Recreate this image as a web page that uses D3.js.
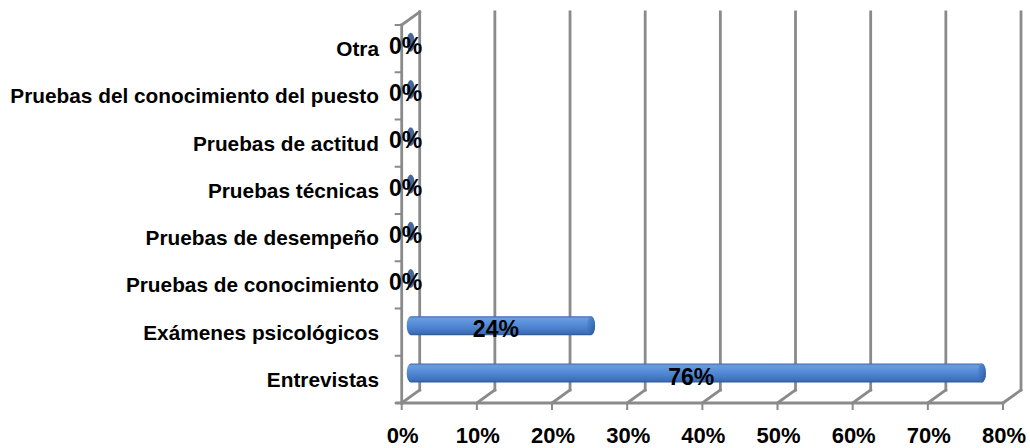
<!DOCTYPE html>
<html>
<head>
<meta charset="utf-8">
<script src="https://cdn.jsdelivr.net/npm/d3@7"></script>
<style>
  html, body { margin: 0; padding: 0; background: #ffffff; }
  svg { display: block; }
  text { font-family: "Liberation Sans", Arial, sans-serif; font-weight: bold; fill: #000; }
</style>
</head>
<body>
<svg id="chart" width="1030" height="448"></svg>
<script>
// Selection methods, top to bottom
const categories = [
  "Otra",
  "Pruebas del conocimiento del puesto",
  "Pruebas de actitud",
  "Pruebas técnicas",
  "Pruebas de desempeño",
  "Pruebas de conocimiento",
  "Exámenes psicológicos",
  "Entrevistas"
];
const values = [0, 0, 0, 0, 0, 0, 0.24, 0.76];
const tickValues = [0, 0.1, 0.2, 0.3, 0.4, 0.5, 0.6, 0.7, 0.8];

const svg = d3.select("#chart");

// Front plane of the 3D box, and the depth offset to its back wall
const plot = { left: 401.7, right: 1003, top: 25, bottom: 403 };
const depth = { dx: 18, dy: -13 };

const x = d3.scaleLinear().domain([0, 0.8]).range([plot.left, plot.right]);
const y = d3.scaleBand().domain(categories).range([plot.top, plot.bottom]).padding(0);

const pct = d3.format(".0%");
const gridColor = "#8a8a8a";

// Gradients for the cylinder bars
const defs = svg.append("defs");
const body = defs.append("linearGradient").attr("id", "barBody")
  .attr("x1", 0).attr("y1", 0).attr("x2", 0).attr("y2", 1);
[[0, "#3a68aa"], [0.12, "#6a9de0"], [0.3, "#5d93dc"], [0.6, "#4c82cf"], [0.88, "#3f70b9"], [1, "#2f5996"]]
  .forEach(([o, c]) => body.append("stop").attr("offset", o).attr("stop-color", c));
const cap = defs.append("linearGradient").attr("id", "barCap")
  .attr("x1", 0).attr("y1", 0).attr("x2", 1).attr("y2", 1);
[[0, "#5a8fd6"], [0.5, "#3f72bd"], [1, "#2b558f"]]
  .forEach(([o, c]) => cap.append("stop").attr("offset", o).attr("stop-color", c));

const grid = svg.append("g").attr("stroke", gridColor).attr("fill", "none")
  .attr("stroke-width", 2.8).attr("stroke-linecap", "square");

// Back-wall gridlines with their floor diagonals
tickValues.forEach(v => {
  const xf = x(v), xb = x(v) + depth.dx;
  grid.append("line")
    .attr("x1", xb).attr("y1", plot.top + depth.dy)
    .attr("x2", xb).attr("y2", plot.bottom + depth.dy);
  grid.append("line")
    .attr("x1", xf).attr("y1", plot.bottom)
    .attr("x2", xb).attr("y2", plot.bottom + depth.dy);
  // tick mark below the front edge
  grid.append("line")
    .attr("x1", xf).attr("y1", plot.bottom)
    .attr("x2", xf).attr("y2", plot.bottom + 6)
    .attr("stroke-width", 2);
});

// Front floor edge
grid.append("line")
  .attr("x1", plot.left - 5).attr("y1", plot.bottom)
  .attr("x2", plot.right).attr("y2", plot.bottom);

// Side wall: front edge and top diagonal
grid.append("line")
  .attr("x1", plot.left).attr("y1", plot.top)
  .attr("x2", plot.left).attr("y2", plot.bottom);
grid.append("line")
  .attr("x1", plot.left).attr("y1", plot.top)
  .attr("x2", plot.left + depth.dx).attr("y2", plot.top + depth.dy);

// Category tick marks on the side wall
const bounds = categories.map(c => y(c)).concat([plot.bottom]);
bounds.forEach(b => {
  grid.append("line")
    .attr("x1", plot.left - 6).attr("y1", b)
    .attr("x2", plot.left).attr("y2", b)
    .attr("stroke-width", 2);
});

// Cylinder bars, sitting halfway into the depth of the box
const barH = 19;
const capRx = 4;
const bars = svg.append("g");
categories.forEach((c, i) => {
  const v = values[i];
  const cy = y(c) + y.bandwidth() / 2 + depth.dy / 2;
  const x0 = x(0) + depth.dx / 2;
  const x1 = x(v) + depth.dx / 2;
  const top = cy - barH / 2;
  const hasLength = x1 - x0 > 0.5;
  if (hasLength) {
    bars.append("path")
      .attr("d", `M${x0},${top} L${x1},${top} A${capRx},${barH / 2} 0 0 1 ${x1},${top + barH} L${x0},${top + barH} A${capRx},${barH / 2} 0 0 1 ${x0},${top} Z`)
      .attr("fill", "url(#barBody)");
  }
  bars.append("ellipse")
    .attr("cx", x1).attr("cy", cy)
    .attr("rx", capRx).attr("ry", barH / 2)
    .attr("fill", hasLength ? "url(#barCap)" : "#45679a")
    .attr("opacity", hasLength ? 0.9 : 1);
});

// Value labels
const labels = svg.append("g");
categories.forEach((c, i) => {
  const v = values[i];
  const fs = 23;
  const cx = (x(0) + x(v)) / 2 + 4;
  const cy = y(c) + y.bandwidth() / 2 - 3;
  labels.append("text")
    .attr("x", cx).attr("y", cy + fs * 0.358)
    .attr("text-anchor", "middle")
    .attr("font-size", fs)
    .text(pct(v));
});

// Category labels
const catAxis = svg.append("g");
categories.forEach(c => {
  const fs = 20.8;
  catAxis.append("text")
    .attr("x", 379)
    .attr("y", y(c) + y.bandwidth() / 2 + fs * 0.358)
    .attr("text-anchor", "end")
    .attr("font-size", fs)
    .text(c);
});

// Percentage axis labels
const valAxis = svg.append("g");
tickValues.forEach(v => {
  const fs = 22;
  valAxis.append("text")
    .attr("x", x(v) + 1)
    .attr("y", 443)
    .attr("text-anchor", "middle")
    .attr("font-size", fs)
    .text(pct(v));
});
</script>
</body>
</html>
